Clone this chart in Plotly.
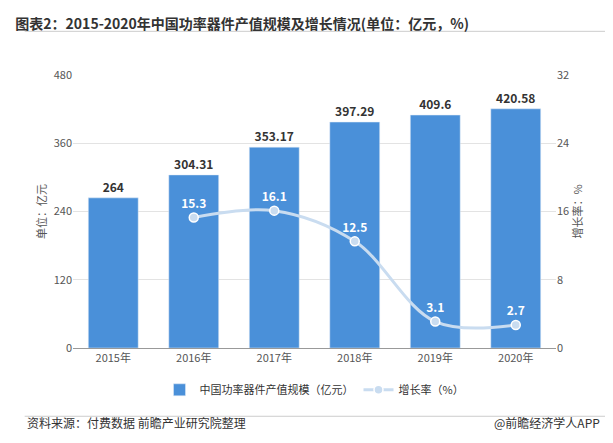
import plotly.graph_objects as go

years = ["2015年", "2016年", "2017年", "2018年", "2019年", "2020年"]
output_value = [264, 304.31, 353.17, 397.29, 409.6, 420.58]
growth_years = ["2016年", "2017年", "2018年", "2019年", "2020年"]
growth_rate = [15.3, 16.1, 12.5, 3.1, 2.7]

font = "Noto Sans CJK SC"

fig = go.Figure()
fig.add_trace(go.Bar(
    x=years, y=output_value, name="中国功率器件产值规模（亿元）",
    marker_color="#4a90d9", width=0.62,
    text=[f"<b>{v:g}</b>" for v in output_value], textposition="outside",
    textfont=dict(size=12, color="#333", family=font), cliponaxis=False,
))
fig.add_trace(go.Scatter(
    x=growth_years, y=growth_rate, name="增长率（%）", yaxis="y2",
    mode="lines+markers+text", line=dict(color="#c9dcf0", width=3, shape="spline"),
    marker=dict(size=9, color="#c9dcf0", line=dict(color="white", width=1.5)),
    text=[f"<b>{v:g}</b>" for v in growth_rate], textposition="top center",
    textfont=dict(size=12, color="white", family=font),
))

fig.update_layout(
    width=613, height=443,
    margin=dict(l=65, r=65, t=67, b=103),
    plot_bgcolor="white", paper_bgcolor="white",
    font=dict(family=font, size=11, color="#555"),
    title=dict(text="<b>图表2：2015-2020年中国功率器件产值规模及增长情况(单位：亿元，%)</b>",
               x=0.012, y=0.975, xanchor="left", yanchor="top",
               font=dict(size=14, color="#333")),
    xaxis=dict(showline=True, linecolor="#999", ticks="", tickfont=dict(size=11)),
    yaxis=dict(range=[0, 480], dtick=120, gridcolor="#e3e3e3", zeroline=False,
               title=dict(text="单位：亿元", font=dict(size=11), standoff=4)),
    yaxis2=dict(range=[0, 32], dtick=8, overlaying="y", side="right", showgrid=False,
                zeroline=False, title=dict(text="增长率：%", font=dict(size=11), standoff=4)),
    legend=dict(orientation="h", x=0.5, xanchor="center", y=-0.1, yanchor="top",
                font=dict(size=11, color="#333")),
)
fig.add_annotation(text="资料来源：付费数据 前瞻产业研究院整理", xref="paper", yref="paper",
                   x=-0.1, y=-0.31, xanchor="left", showarrow=False,
                   font=dict(size=12, color="#333"))
fig.add_annotation(text="@前瞻经济学人APP", xref="paper", yref="paper",
                   x=1.095, y=-0.31, xanchor="right", showarrow=False,
                   font=dict(size=12, color="#333"))
fig.add_shape(type="line", xref="paper", yref="paper", x0=-0.1, x1=1.12, y0=-0.25, y1=-0.25,
              line=dict(color="#ccc", width=1))
fig.add_shape(type="line", xref="paper", yref="paper", x0=-0.1, x1=1.12, y0=1.16, y1=1.16,
              line=dict(color="#ccc", width=1))

fig.write_html("out.html")
